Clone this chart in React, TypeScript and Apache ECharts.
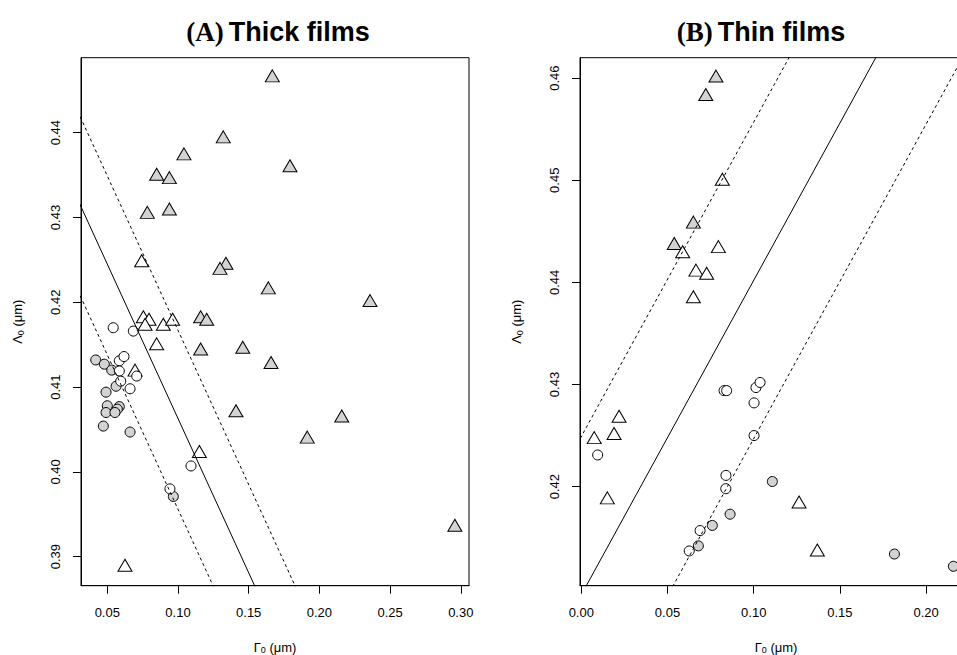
import React, { useEffect, useRef } from "react";
import * as echarts from "echarts";

// ---------- Data (Γ0, Λ0) in µm ----------
// Panel A: Thick films
const thickGrayTriangles: number[][] = [
  [0.1667, 0.4467], [0.132, 0.4395], [0.1042, 0.4375], [0.1792, 0.4361], [0.0849, 0.4351],
  [0.0939, 0.4347], [0.0783, 0.4306], [0.0939, 0.431], [0.1339, 0.4246], [0.1297, 0.424],
  [0.1639, 0.4217], [0.116, 0.4183], [0.1203, 0.418], [0.116, 0.4145], [0.1458, 0.4147],
  [0.1658, 0.4129], [0.2358, 0.4202], [0.141, 0.4072], [0.2158, 0.4066], [0.1914, 0.4041],
  [0.2958, 0.3937],
];
const thickWhiteTriangles: number[][] = [
  [0.0743, 0.4249], [0.0755, 0.4183], [0.0795, 0.418], [0.0767, 0.4174], [0.0896, 0.4174],
  [0.0962, 0.418], [0.0849, 0.4151], [0.0696, 0.412], [0.1151, 0.4024], [0.0625, 0.389],
];
const thickWhiteCircles: number[][] = [
  [0.0542, 0.417], [0.0684, 0.4166], [0.0585, 0.4131], [0.0618, 0.4136], [0.0585, 0.4119],
  [0.0708, 0.4113], [0.0595, 0.4107], [0.0661, 0.4098], [0.1092, 0.4007], [0.0943, 0.398],
];
const thickGrayCircles: number[][] = [
  [0.0418, 0.4132], [0.0479, 0.4127], [0.0531, 0.412], [0.0562, 0.4101], [0.0491, 0.4094],
  [0.05, 0.4078], [0.0585, 0.4077], [0.0491, 0.407], [0.0571, 0.4074], [0.0554, 0.407],
  [0.0472, 0.4054], [0.0661, 0.4047], [0.0967, 0.3971],
];
// regression line + bounds (slope, intercepts: centre, upper, lower)
const thickSlope = -0.364;
const thickIntercepts = [0.4427, 0.4531, 0.432];

// Panel B: Thin films
const thinGrayTriangles: number[][] = [
  [0.0781, 0.4602], [0.0722, 0.4584], [0.065, 0.4459], [0.0539, 0.4438],
];
const thinWhiteTriangles: number[][] = [
  [0.0818, 0.4501], [0.0588, 0.443], [0.0795, 0.4435], [0.0665, 0.4412], [0.0727, 0.4409],
  [0.065, 0.4386], [0.0219, 0.4269], [0.0075, 0.4248], [0.019, 0.4252], [0.0151, 0.4189],
  [0.1263, 0.4185], [0.1369, 0.4138],
];
const thinWhiteCircles: number[][] = [
  [0.0095, 0.4231], [0.0828, 0.4294], [0.0843, 0.4294], [0.1002, 0.4282], [0.1013, 0.4297],
  [0.1037, 0.4302], [0.1002, 0.425], [0.0839, 0.4211], [0.0838, 0.4198], [0.0689, 0.4157],
  [0.0626, 0.4137],
];
const thinGrayCircles: number[][] = [
  [0.1108, 0.4205], [0.0863, 0.4173], [0.076, 0.4162], [0.0679, 0.4142], [0.1816, 0.4134],
  [0.2158, 0.4122],
];
const thinSlope = 0.308;
const thinIntercepts = [0.4094, 0.4249, 0.3939];

// Tick labels
const thickXTicks = [0.05, 0.1, 0.15, 0.2, 0.25, 0.3];
const thickYTicks = [0.39, 0.4, 0.41, 0.42, 0.43, 0.44];
const thinXTicks = [0.0, 0.05, 0.1, 0.15, 0.2];
const thinYTicks = [0.42, 0.43, 0.44, 0.45, 0.46];

// Axis ranges
const thickXRange = [0.0314, 0.3058];
const thickYRange = [0.38658, 0.44884];
const thinXRange = [-0.00075, 0.2266];
const thinYRange = [0.4103, 0.462];

const GRAY = "#d3d3d3";
const SANS = "'Liberation Sans', Helvetica, Arial, sans-serif";
const SERIF = "'Liberation Serif', 'Times New Roman', serif";

function App() {
  const ref = useRef<HTMLDivElement>(null);

  useEffect(() => {
    if (!ref.current) return;
    const chart = echarts.init(ref.current, undefined, { renderer: "svg" });

    const fmt = (v: number) => v.toFixed(2);
    const nameRich = {
      a: { fontSize: 13, fontFamily: SANS, color: "#000" },
      b: { fontSize: 9, fontFamily: SANS, color: "#000", padding: [6, 0, 0, 0] },
    };
    const mkX = (idx: number, range: number[], ticks: number[]) => ({
      type: "value",
      gridIndex: idx,
      min: range[0],
      max: range[1],
      name: "{a|Γ}{b|0}{a| (μm)}",
      nameLocation: "middle",
      nameGap: 54,
      nameTextStyle: { rich: nameRich },
      axisLine: { show: true, onZero: false, lineStyle: { color: "#000", width: 1 } },
      axisTick: { show: true, length: 8, customValues: ticks, lineStyle: { color: "#000" } },
      axisLabel: {
        customValues: ticks,
        formatter: fmt,
        margin: 20,
        fontSize: 13,
        fontFamily: SANS,
        color: "#000",
      },
      splitLine: { show: false },
    });
    const mkY = (idx: number, range: number[], ticks: number[]) => ({
      type: "value",
      gridIndex: idx,
      min: range[0],
      max: range[1],
      name: "{a|Λ}{b|0}{a| (μm)}",
      nameLocation: "middle",
      nameGap: 56,
      nameTextStyle: { rich: nameRich },
      axisLine: { show: true, onZero: false, lineStyle: { color: "#000", width: 1 } },
      axisTick: { show: true, length: 8, customValues: ticks, lineStyle: { color: "#000" } },
      axisLabel: {
        customValues: ticks,
        formatter: fmt,
        rotate: 90,
        margin: 19,
        fontSize: 13,
        fontFamily: SANS,
        color: "#000",
      },
      splitLine: { show: false },
    });

    const scatter = (idx: number, data: number[][], symbol: string, fill: string) => ({
      type: "scatter",
      xAxisIndex: idx,
      yAxisIndex: idx,
      data,
      symbol,
      symbolSize: symbol === "triangle" ? [14, 12] : 10,
      itemStyle: { color: fill, borderColor: "#000", borderWidth: 1, opacity: 1 },
      emphasis: { disabled: true },
      z: 2,
    });

    const lineSeries = (idx: number, slope: number, intercepts: number[], range: number[]) =>
      intercepts.map((b, i) => ({
        type: "line",
        xAxisIndex: idx,
        yAxisIndex: idx,
        data: [
          [range[0] - 0.05, b + slope * (range[0] - 0.05)],
          [range[1] + 0.05, b + slope * (range[1] + 0.05)],
        ],
        symbol: "none",
        clip: true,
        lineStyle: { color: "#000", width: 1, type: i === 0 ? "solid" : [3, 3] },
        emphasis: { disabled: true },
        z: 3,
      }));

    const titleRich = {
      a: { fontFamily: SERIF, fontWeight: "bold", fontSize: 27, color: "#000" },
      b: { fontFamily: SANS, fontWeight: "bold", fontSize: 27, color: "#000" },
    };

    const gridBase = {
      top: 57.7,
      height: 528,
      show: true,
      borderColor: "#000",
      borderWidth: 1,
      backgroundColor: "transparent",
      containLabel: false,
      outerBoundsMode: "none",
    };

    chart.setOption({
      animation: false,
      backgroundColor: "#fff",
      title: [
        {
          text: "{a|(A)} {b|Thick films}",
          left: 273,
          top: 13,
          textAlign: "center",
          textStyle: { rich: titleRich },
        },
        {
          text: "{a|(B)} {b|Thin films}",
          left: 756,
          top: 13,
          textAlign: "center",
          textStyle: { rich: titleRich },
        },
      ],
      grid: [
        { ...gridBase, left: 81, width: 388 },
        { ...gridBase, left: 580, width: 392 },
      ],
      xAxis: [mkX(0, thickXRange, thickXTicks), mkX(1, thinXRange, thinXTicks)],
      yAxis: [mkY(0, thickYRange, thickYTicks), mkY(1, thinYRange, thinYTicks)],
      series: [
        scatter(0, thickGrayTriangles, "triangle", GRAY),
        scatter(0, thickWhiteTriangles, "triangle", "#fff"),
        scatter(0, thickGrayCircles, "circle", GRAY),
        scatter(0, thickWhiteCircles, "circle", "#fff"),
        ...lineSeries(0, thickSlope, thickIntercepts, thickXRange),
        scatter(1, thinGrayTriangles, "triangle", GRAY),
        scatter(1, thinWhiteTriangles, "triangle", "#fff"),
        scatter(1, thinGrayCircles, "circle", GRAY),
        scatter(1, thinWhiteCircles, "circle", "#fff"),
        ...lineSeries(1, thinSlope, thinIntercepts, thinXRange),
      ],
    });

    return () => chart.dispose();
  }, []);

  return (
    <div
      style={{
        position: "fixed",
        left: 0,
        top: 0,
        width: 957,
        height: 655,
        overflow: "hidden",
        background: "#fff",
      }}
    >
      <div ref={ref} style={{ width: 1000, height: 655 }} />
    </div>
  );
}

export default App;
